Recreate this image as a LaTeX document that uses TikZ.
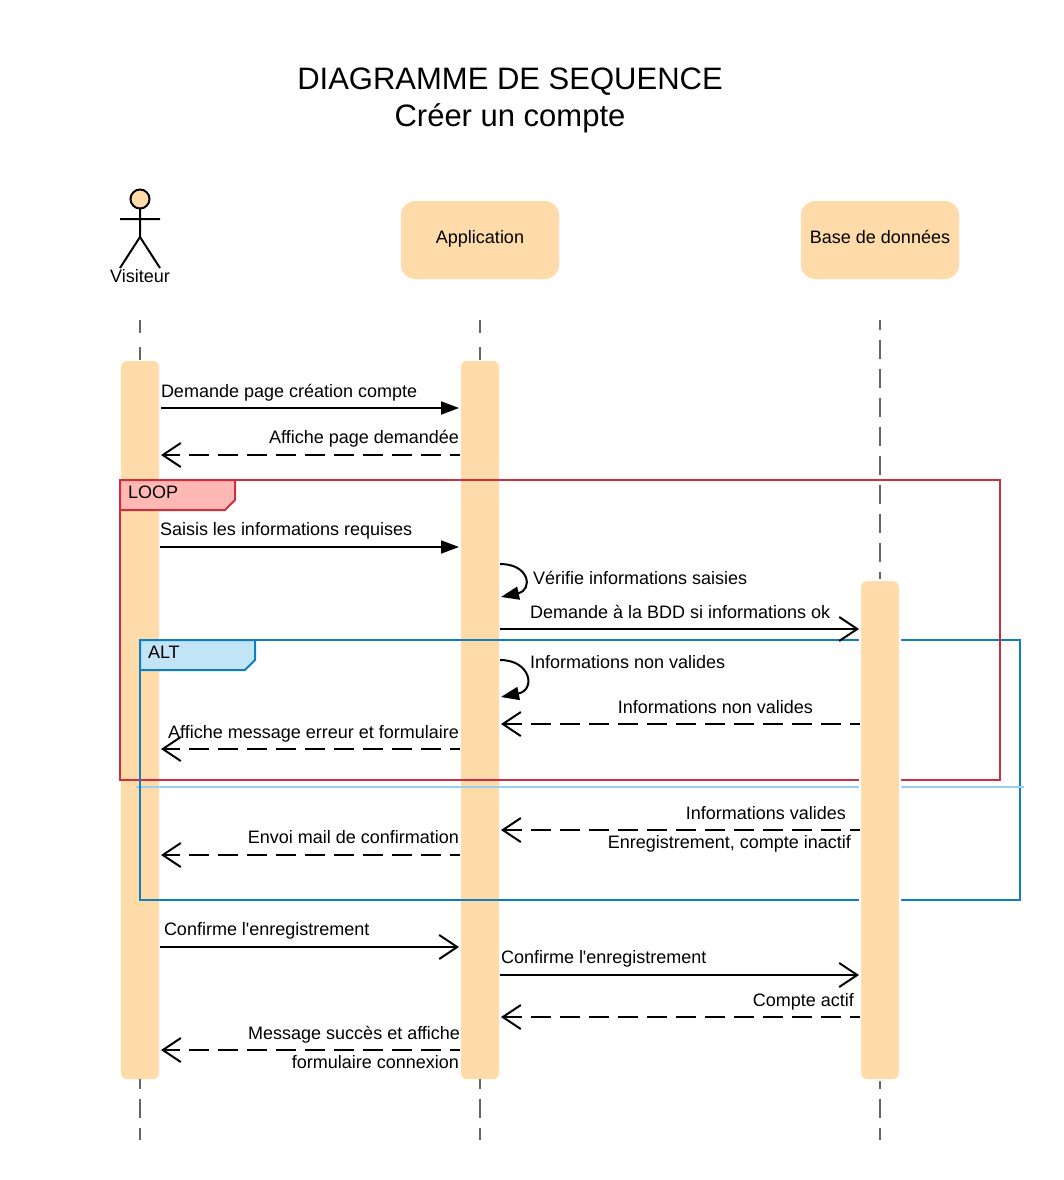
\documentclass[tikz,border=0pt]{standalone}
\usepackage{fontspec}
\setmainfont{Liberation Sans}
\usetikzlibrary{arrows.meta,positioning}
\definecolor{barfill}{HTML}{FFDBA9}
\definecolor{looped}{HTML}{CC2F3F}
\definecolor{loopfill}{HTML}{FFB8B3}
\definecolor{altblue}{HTML}{0F7DBE}
\definecolor{altfill}{HTML}{C1E4F7}
\definecolor{altsep}{HTML}{99CEF5}
\definecolor{lifegray}{HTML}{666666}
\begin{document}
\begin{tikzpicture}[x=1pt, y=-1pt,
    lbl/.style={inner sep=0pt, outer sep=0pt, text height=14.5pt, text depth=1.5pt, font=\fontsize{18}{20}\selectfont},
    head/.style={lbl, text height=11pt, text depth=4pt, fill=barfill, rounded corners=14pt, minimum width=158pt, minimum height=78pt},
    bar/.style={fill=barfill, inner sep=0pt, outer sep=0pt, rounded corners=6pt, minimum width=38pt},
    life/.style={lifegray, line width=2pt, dash pattern=on 19.5pt off 9.5pt, dash phase=9.5pt},
    lifeshort/.style={lifegray, line width=2pt, dash pattern=on 13pt off 14pt},
    call/.style={line width=2pt, -{Triangle[length=18pt,width=13pt]}},
    callopen/.style={line width=2pt, -{Straight Barb[length=18pt,width=24pt,line width=2pt]}},
    reply/.style={callopen, dash pattern=on 19.5pt off 9.5pt, dash phase=9.5pt},
    frame/.style={draw, line width=2pt, inner sep=0pt, outer sep=0pt, minimum width=880pt}]
    \useasboundingbox (0,0) rectangle (1064,1180);

    \node [font=\fontsize{31}{37}\selectfont, align=center, inner sep=0pt] (title) at (510,100.5) {DIAGRAMME DE SEQUENCE\\Créer un compte};

    \node [draw, circle, inner sep=0pt, outer sep=0pt, fill=barfill, line width=2pt, minimum size=19pt] (vishead) at (140,199) {};
    \coordinate (viship) at (140,237);
    \coordinate (visarmL) at (120,219);
    \coordinate (visarmR) at (160,219);
    \coordinate (vislegL) at (120,268);
    \coordinate (vislegR) at (160,268);
    \draw [line width=2pt] (vishead) -- (viship) (visarmL) -- (visarmR) (vislegL) -- (viship) -- (vislegR);
    \node [lbl] (vis) at (140,276) {Visiteur};
    \node [head] (app) at (480,240) {Application};
    \node [head] (bdd) at (880,240) {Base de données};

    \node [bar, minimum height=718pt] (barvis) at (140,720) {};
    \node [bar, minimum height=718pt] (barapp) at (480,720) {};
    \coordinate (topvis) at (140,320);
    \coordinate (topapp) at (480,320);
    \coordinate (topbdd) at (880,320);
    \coordinate (endvis) at (140,1140);
    \coordinate (endapp) at (480,1140);
    \coordinate (endbdd) at (880,1140);
    \draw [lifeshort] (topvis) -- (barvis.north);
    \draw [lifeshort] (topapp) -- (barapp.north);
    \draw [life] (topbdd) -- (880,581);
    \draw [life] (barvis.south) -- (endvis);
    \draw [life] (barapp.south) -- (endapp);
    \draw [life] (880,1079) -- (endbdd);

    \node [frame, altblue, minimum height=260pt] (framealt) at (580,770) {};
    \node [frame, looped, minimum height=300pt] (frameloop) at (560,630) {};
    \coordinate (sepL) at (136,787);
    \coordinate (sepR) at (1024,787);
    \draw [altsep, line width=2pt] (sepL) -- (sepR);
    \draw [altblue, line width=2pt] (framealt.north west) -- (framealt.south west);
    \draw [looped, fill=loopfill, line width=2pt] (120,480) -- (235,480) -- (235,500) -- (225,510) -- (120,510) -- cycle;
    \draw [altblue, fill=altfill, line width=2pt] (140,640) -- (255,640) -- (255,660) -- (245,670) -- (140,670) -- cycle;
    \node [lbl, right] (looplbl) at (128,492) {LOOP};
    \node [lbl, right] (altlbl) at (148,652) {ALT};

    \node [bar, draw=white, line width=2pt, rounded corners=7pt, minimum width=40pt, minimum height=500pt] (barbdd) at (880,830) {};

    \coordinate (a1) at (161,408);
    \coordinate (b1) at (459,408);
    \coordinate (a2) at (460,455);
    \coordinate (b2) at (161,455);
    \coordinate (a3) at (160,547);
    \coordinate (b3) at (459,547);
    \coordinate (a4) at (500,564);
    \coordinate (b4) at (501,597);
    \coordinate (a5) at (500,629);
    \coordinate (b5) at (859,629);
    \coordinate (a6) at (500,660);
    \coordinate (b6) at (501,697);
    \coordinate (a7) at (860,724);
    \coordinate (b7) at (501,724);
    \coordinate (a8) at (460,749);
    \coordinate (b8) at (161,749);
    \coordinate (a9) at (860,830);
    \coordinate (b9) at (501,830);
    \coordinate (a10) at (460,855);
    \coordinate (b10) at (161,855);
    \coordinate (a11) at (160,947);
    \coordinate (b11) at (459,947);
    \coordinate (a12) at (500,975);
    \coordinate (b12) at (859,975);
    \coordinate (a13) at (860,1017);
    \coordinate (b13) at (501,1017);
    \coordinate (a14) at (460,1050);
    \coordinate (b14) at (161,1050);

    \draw [call] (a1) -- (b1);
    \draw [reply] (a2) -- (b2);
    \draw [call] (a3) -- (b3);
    \draw [call] (a4) .. controls (530,564) and (533,590) .. (b4);
    \draw [callopen] (a5) -- (b5);
    \draw [call] (a6) .. controls (531,660) and (536,690) .. (b6);
    \draw [reply] (a7) -- (b7);
    \draw [reply] (a8) -- (b8);
    \draw [reply] (a9) -- (b9);
    \draw [reply] (a10) -- (b10);
    \draw [callopen] (a11) -- (b11);
    \draw [callopen] (a12) -- (b12);
    \draw [reply] (a13) -- (b13);
    \draw [reply] (a14) -- (b14);

    \node [lbl, right] (t1) at (161,391) {Demande page création compte};
    \node [lbl, left] (t2) at (459,437) {Affiche page demandée};
    \node [lbl, right] (t3) at (160,529) {Saisis les informations requises};
    \node [lbl, right] (t4) at (533,578) {Vérifie informations saisies};
    \node [lbl, right] (t5) at (530,612) {Demande à la BDD si informations ok};
    \node [lbl, right] (t6) at (530,662) {Informations non valides};
    \node [lbl, left] (t7) at (813,707) {Informations non valides};
    \node [lbl, left] (t8) at (459,732) {Affiche message erreur et formulaire};
    \node [lbl, left] (t9) at (846,813) {Informations valides};
    \node [lbl, left] (t10) at (851,842) {Enregistrement, compte inactif};
    \node [lbl, left] (t11) at (459,837) {Envoi mail de confirmation};
    \node [lbl, right] (t12) at (164,929) {Confirme l\textquotesingle enregistrement};
    \node [lbl, right] (t13) at (501,957) {Confirme l\textquotesingle enregistrement};
    \node [lbl, left] (t14) at (854,1000) {Compte actif};
    \node [lbl, left] (t15) at (460,1033) {Message succès et affiche};
    \node [lbl, left] (t16) at (459,1062) {formulaire connexion};
\end{tikzpicture}
\end{document}
